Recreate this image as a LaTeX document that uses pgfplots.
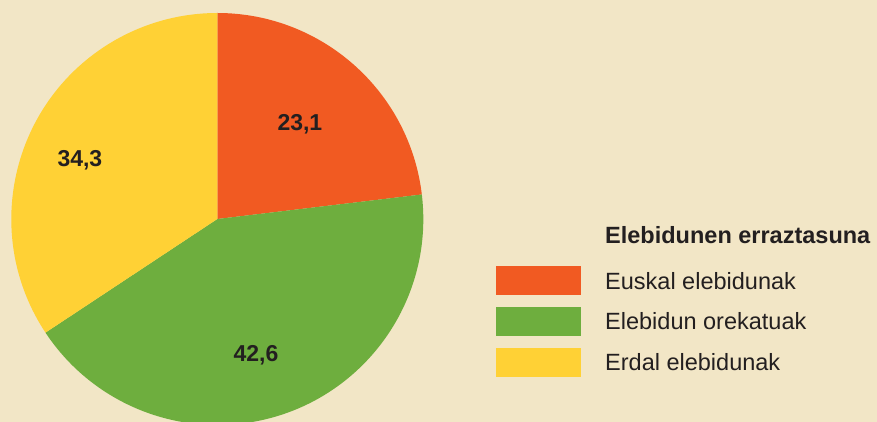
\documentclass[border=0pt]{standalone}
\usepackage{fontspec}
\setmainfont{Liberation Sans}
\usepackage{pgfplots}
\usepackage{pgfplotstable}
\pgfplotsset{compat=1.18}
\definecolor{bg}{HTML}{F2E6C6}
\definecolor{slice0}{HTML}{F15A22}
\definecolor{slice1}{HTML}{6EAE3E}
\definecolor{slice2}{HTML}{FFD135}
\definecolor{txt}{HTML}{231F20}
\pgfplotstableread[col sep=comma]{
name,value
Euskal elebidunak,23.1
Elebidun orekatuak,42.6
Erdal elebidunak,34.3
}\piedata
\begin{document}
\begin{tikzpicture}[x=1pt,y=1pt]
\path[use as bounding box] (0,0) rectangle (877,422);
\clip (0,0) rectangle (877,422);
\fill[bg] (0,0) rectangle (877,422);
\begin{axis}[
  at={(217.3pt,203pt)}, anchor=origin,
  scale only axis, width=412pt, height=412pt,
  xmin=-1, xmax=1, ymin=-1, ymax=1,
  hide axis, clip=false]
\addplot[draw=none] coordinates {(0,0)};
\gdef\curangle{90}
\pgfplotsinvokeforeach{0,1,2}{
  \pgfplotstablegetelem{#1}{value}\of\piedata
  \pgfmathsetmacro\endangle{\curangle-3.6*\pgfplotsretval}
  \edef\temp{\noexpand\fill[slice#1] (axis cs:0,0) -- (axis cs:{cos(\curangle)},{sin(\curangle)}) arc[start angle=\curangle, end angle=\endangle, radius=206pt] -- cycle;}
  \temp
  \xdef\curangle{\endangle}
}
\node[font=\fontsize{23}{27}\selectfont\bfseries, text=txt] at (axis cs:0.401,0.459) {23,1};
\node[font=\fontsize{23}{27}\selectfont\bfseries, text=txt] at (axis cs:0.188,-0.660) {42,6};
\node[font=\fontsize{23}{27}\selectfont\bfseries, text=txt] at (axis cs:-0.667,0.286) {34,3};
\end{axis}
\node[anchor=base west, inner sep=0pt, font=\fontsize{23.5}{28}\selectfont\bfseries, text=txt] at (605,178) {Elebidunen erraztasuna};
\fill[slice0] (496,127) rectangle (581,156);
\fill[slice1] (496,86) rectangle (581,115);
\fill[slice2] (496,45) rectangle (581,74);
\node[anchor=base west, inner sep=0pt, font=\fontsize{23.5}{28}\selectfont, text=txt] at (605,132) {Euskal elebidunak};
\node[anchor=base west, inner sep=0pt, font=\fontsize{23.5}{28}\selectfont, text=txt] at (605,92) {Elebidun orekatuak};
\node[anchor=base west, inner sep=0pt, font=\fontsize{23.5}{28}\selectfont, text=txt] at (605,51) {Erdal elebidunak};
\end{tikzpicture}
\end{document}
